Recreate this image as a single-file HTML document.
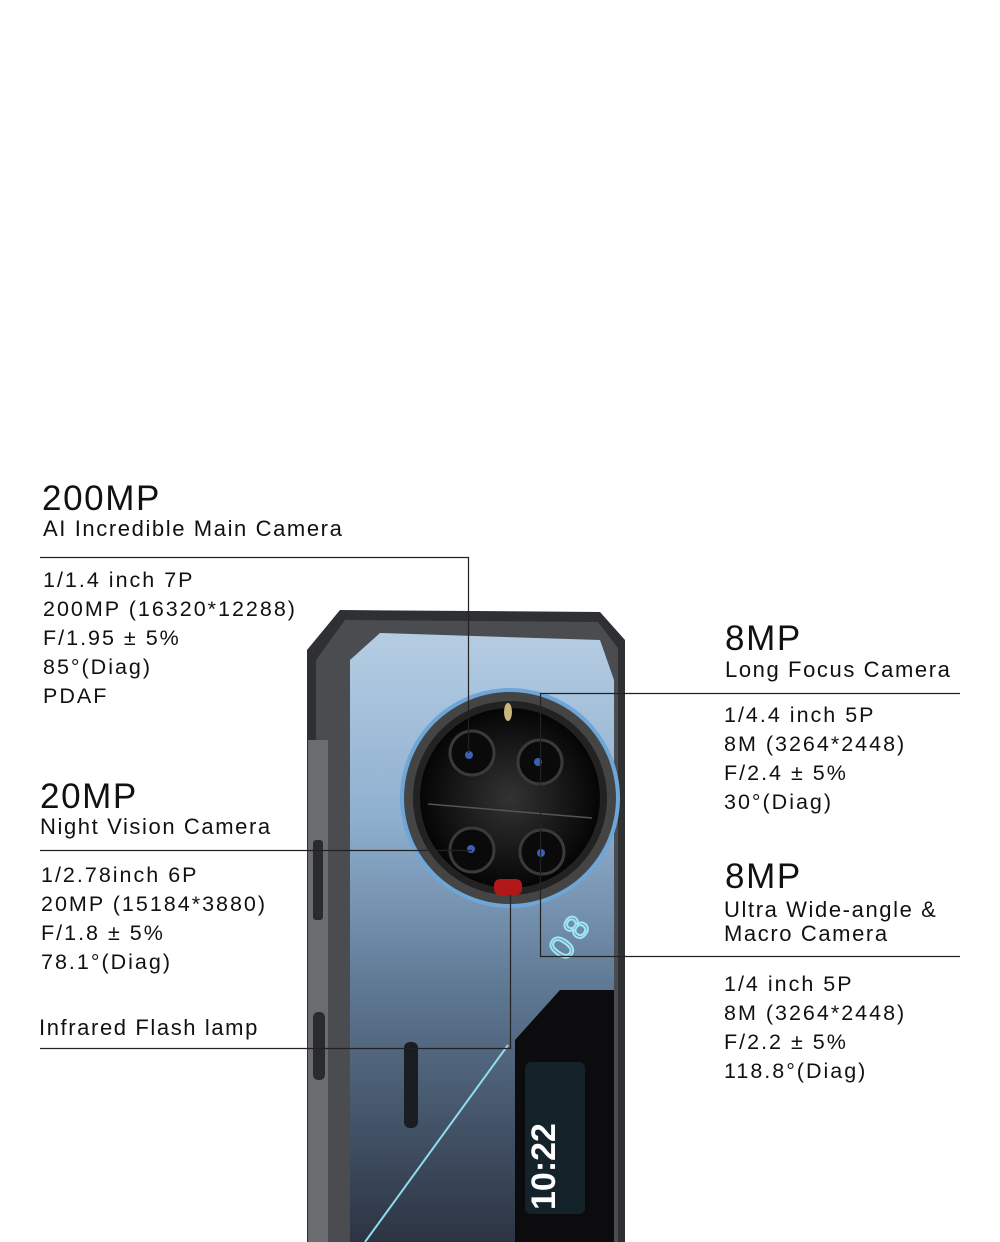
<!DOCTYPE html>
<html><head><meta charset="utf-8"><style>
body{margin:0;width:1000px;height:1242px;background:#fff;overflow:hidden;position:relative;font-family:"Liberation Sans",sans-serif;color:#111}
.t{position:absolute;white-space:nowrap;line-height:1}
.h{font-size:35px;letter-spacing:1.6px}
.s{font-size:22px;letter-spacing:1.6px}
.l{font-size:21.5px;line-height:29px;letter-spacing:2px}
svg{position:absolute;left:0;top:0}
</style></head><body>
<svg width="1000" height="1242" viewBox="0 0 1000 1242">
<defs>
<linearGradient id="bk" x1="0" y1="0" x2="0" y2="1">
<stop offset="0" stop-color="#b5cde3"/><stop offset="0.3" stop-color="#8fb0d0"/><stop offset="0.6" stop-color="#5c7590"/><stop offset="1" stop-color="#2c3442"/></linearGradient>
<radialGradient id="cm" cx="0.5" cy="0.5" r="0.5"><stop offset="0" stop-color="#333"/><stop offset="1" stop-color="#050505"/></radialGradient>
</defs>
<path d="M307 650 L340 610 L600 612 L625 640 L625 1242 L307 1242 Z" fill="#2f3033"/>
<path d="M316 660 L345 620 L598 622 L618 648 L618 1242 L316 1242 Z" fill="#4a4c50"/>
<rect x="308" y="740" width="20" height="502" fill="#6a6c70"/>
<rect x="313" y="840" width="10" height="80" rx="3" fill="#2a2b2e"/>
<rect x="313" y="1012" width="12" height="68" rx="5" fill="#2a2b2e"/>
<path d="M350 660 L380 633 L600 640 L614 680 L614 1242 L350 1242 Z" fill="url(#bk)"/>
<circle cx="510" cy="798" r="110" fill="#6fa6d8"/>
<circle cx="510" cy="798" r="106" fill="#444"/>
<circle cx="510" cy="798" r="97" fill="#222"/>
<circle cx="510" cy="798" r="90" fill="url(#cm)"/>
<line x1="428" y1="804" x2="592" y2="818" stroke="#555" stroke-width="1.5"/>
<g fill="#0a0a0a" stroke="#3a3a3a" stroke-width="3">
<circle cx="472" cy="753" r="22"/><circle cx="540" cy="762" r="22"/>
<circle cx="472" cy="850" r="22"/><circle cx="542" cy="852" r="22"/></g>
<g fill="#3a5fb8"><circle cx="469" cy="755" r="4"/><circle cx="538" cy="762" r="4"/><circle cx="471" cy="849" r="4"/><circle cx="541" cy="853" r="4"/></g>
<ellipse cx="508" cy="712" rx="4" ry="9" fill="#c9b67a"/>
<rect x="494" y="879" width="28" height="16" rx="6" fill="#b01818"/>
<path d="M515 1040 L560 990 L614 990 L614 1242 L515 1242 Z" fill="#0c0c0e"/>
<rect x="525" y="1062" width="60" height="152" rx="6" fill="#14232a"/>
<text x="0" y="0" transform="translate(555 1210) rotate(-90)" font-size="34" font-weight="bold" fill="#fff" font-family="Liberation Sans">10:22</text>
<path d="M365 1242 L508 1045" stroke="#8fdcf0" stroke-width="2"/>
<text transform="translate(566 962) rotate(-55)" font-size="34" fill="none" stroke="#9ee6f5" stroke-width="2" letter-spacing="6">08</text>
<rect x="404" y="1042" width="14" height="86" rx="6" fill="#1a1d22"/>
<g stroke="#222" stroke-width="1.2" fill="none">
<polyline points="40,557.5 468.5,557.5 468.5,753"/>
<polyline points="960,693.5 540.5,693.5 540.5,956.5 960,956.5"/>
<polyline points="40,850.5 472,850.5"/>
<polyline points="40,1048.5 510.5,1048.5 510.5,895"/>
</g>
</svg>
<div class="t h" style="left:42px;top:481px">200MP</div>
<div class="t s" style="left:43px;top:518px">AI Incredible Main Camera</div>
<div class="t l" style="left:43px;top:566px">1/1.4 inch 7P<br>200MP (16320*12288)<br>F/1.95 ± 5%<br>85°(Diag)<br>PDAF</div>
<div class="t h" style="left:40px;top:779px">20MP</div>
<div class="t s" style="left:40px;top:816px">Night Vision Camera</div>
<div class="t l" style="left:41px;top:861px">1/2.78inch 6P<br>20MP (15184*3880)<br>F/1.8 ± 5%<br>78.1°(Diag)</div>
<div class="t s" style="left:39px;top:1017px">Infrared Flash lamp</div>
<div class="t h" style="left:725px;top:621px">8MP</div>
<div class="t s" style="left:725px;top:659px">Long Focus Camera</div>
<div class="t l" style="left:724px;top:701px">1/4.4 inch 5P<br>8M (3264*2448)<br>F/2.4 ± 5%<br>30°(Diag)</div>
<div class="t h" style="left:725px;top:859px">8MP</div>
<div class="t s" style="left:724px;top:898px;line-height:24px">Ultra Wide-angle &amp;<br>Macro Camera</div>
<div class="t l" style="left:724px;top:970px">1/4 inch 5P<br>8M (3264*2448)<br>F/2.2 ± 5%<br>118.8°(Diag)</div>
</body></html>
